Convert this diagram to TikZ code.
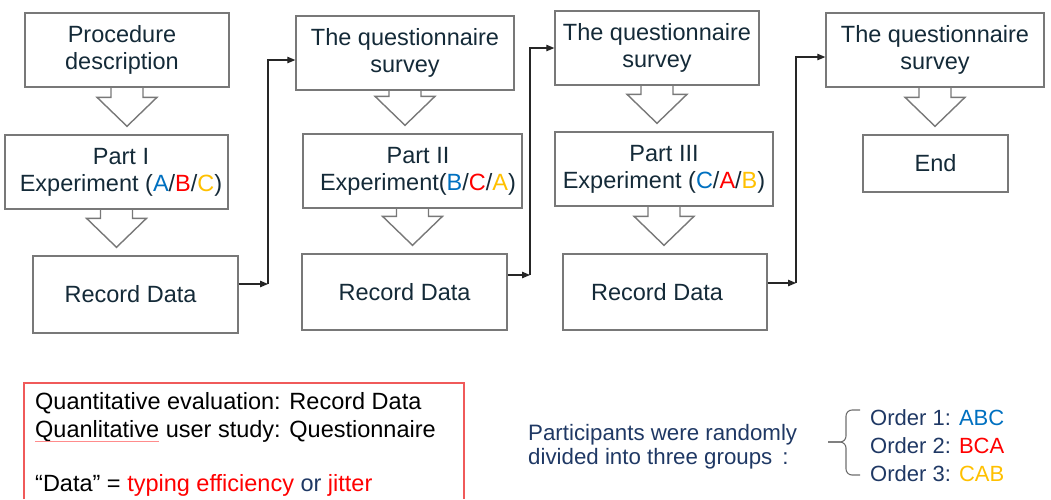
\documentclass[tikz,border=0pt]{standalone}
\usepackage{fontspec}
\setmainfont{Liberation Sans}
\usetikzlibrary{arrows.meta,calc}
\definecolor{boxtext}{RGB}{20,42,56}
\definecolor{boxline}{RGB}{120,120,120}
\definecolor{cA}{RGB}{0,112,192}
\definecolor{cR}{RGB}{255,0,0}
\definecolor{cY}{RGB}{255,192,0}
\definecolor{navy}{RGB}{31,56,100}
\definecolor{redbox}{RGB}{240,90,90}
\definecolor{bracegray}{RGB}{110,110,110}
\newcommand{\sh}[1]{\hspace*{#1}}
\newcommand{\hollowarr}[2]{%
  \draw[harrow] let \p1=(#1.south), \p2=(#2.north) in
  (\x1-16pt,\y1) -- (\x1-16pt,\y2+37pt) -- (\x1-30pt,\y2+37pt) -- (\x1,\y2+8pt)
  -- (\x1+30pt,\y2+37pt) -- (\x1+16pt,\y2+37pt) -- (\x1+16pt,\y1);}
\begin{document}
\begin{tikzpicture}[x=1pt,y=-1pt,
  every node/.style={font=\fontsize{23.5}{27}\selectfont, text=boxtext},
  box/.style={draw=boxline, line width=1.4pt, inner sep=0pt, align=center},
  harrow/.style={draw=boxline, line width=1.4pt, line join=miter},
  conn/.style={draw=black!85, line width=1.1pt, -{Triangle[length=8pt,width=6.5pt]}},
  plain/.style={anchor=base west, inner sep=0pt},
  ]
\useasboundingbox (0,0) rectangle (1051,499);

% column 1
\node[box, minimum width=204pt, minimum height=74pt] (P1) at (127,50) {Procedure\sh{10pt}\\description\sh{10pt}};
\node[box, minimum width=223pt, minimum height=74pt] (E1) at (116.5,172) {\sh{9pt}Part I\\\sh{9pt}Experiment (\textcolor{cA}{A}/\textcolor{cR}{B}/\textcolor{cY}{C})};
\node[box, minimum width=205pt, minimum height=77pt] (R1) at (135.5,294.5) {Record Data\sh{10pt}};

% column 2
\node[box, minimum width=218pt, minimum height=74pt] (Q2) at (405,53) {The questionnaire\\survey};
\node[box, minimum width=219pt, minimum height=74pt] (E2) at (412.5,171) {\sh{11pt}Part II\\\sh{11pt}Experiment(\textcolor{cA}{B}/\textcolor{cR}{C}/\textcolor{cY}{A})};
\node[box, minimum width=205pt, minimum height=76pt] (R2) at (404.5,292) {Record Data};

% column 3
\node[box, minimum width=204pt, minimum height=74pt] (Q3) at (657,48) {The questionnaire\\survey};
\node[box, minimum width=218pt, minimum height=74pt] (E3) at (664,169) {Part III\\Experiment (\textcolor{cA}{C}/\textcolor{cR}{A}/\textcolor{cY}{B})};
\node[box, minimum width=204pt, minimum height=76pt] (R3) at (665,292) {Record Data\sh{16pt}};

% column 4
\node[box, minimum width=218pt, minimum height=74pt] (Q4) at (935,50) {The questionnaire\\survey};
\node[box, minimum width=145pt, minimum height=57pt] (End) at (935.5,163.5) {End};

% hollow arrows
\hollowarr{P1}{E1}
\hollowarr{E1}{R1}
\hollowarr{Q2}{E2}
\hollowarr{E2}{R2}
\hollowarr{Q3}{E3}
\hollowarr{E3}{R3}
\hollowarr{Q4}{End}

% connectors
\coordinate (k1) at (268,284); \coordinate (k1t) at (268,60);
\coordinate (k2) at (530,275); \coordinate (k2t) at (530,48);
\coordinate (k3) at (796,283); \coordinate (k3t) at (796,57);
\draw[conn] (R1.east |- k1) -- (k1);
\draw[conn] (k1) -- (k1t) -- (Q2.west |- k1t);
\draw[conn] (R2.east |- k2) -- (k2);
\draw[conn] (k2) -- (k2t) -- (Q3.west |- k2t);
\draw[conn] (R3.east |- k3) -- (k3);
\draw[conn] (k3) -- (k3t) -- (Q4.west |- k3t);

% red note box
\draw[redbox, line width=1.3pt] (24,499) -- (24,383) -- (464,383) -- (464,499);
\node[plain, text=black] (n1) at (35,409) {Quantitative evaluation: Record Data};
\node[plain, text=black] (n2) at (35,437) {Quanlitative user study: Questionnaire};
\draw[red!45, line width=0.8pt] (35,441.5) -- (159,441.5);
\node[plain, text=black] (n3) at (35,491) {“Data” = \textcolor{cR}{typing efficiency} \textcolor{navy}{or} \textcolor{cR}{jitter}};

% participants
\node[plain, text=navy, font=\fontsize{22.3}{24}\selectfont] (p1) at (528,440) {Participants were randomly};
\node[plain, text=navy, font=\fontsize{22.3}{24}\selectfont] (p2) at (528,464) {divided into three groups\hspace{10pt}:};
\draw[bracegray, line width=1.1pt, rounded corners=6pt] (860,410) -- (846,410) -- (846,442) -- (828,442);
\draw[bracegray, line width=1.1pt, rounded corners=6pt] (828,442) -- (846,442) -- (846,475) -- (860,475);
\node[plain, text=navy, font=\fontsize{22}{24}\selectfont] (o1) at (870,425) {Order 1: \textcolor{cA}{ABC}};
\node[plain, text=navy, font=\fontsize{22}{24}\selectfont] (o2) at (870,453) {Order 2: \textcolor{cR}{BCA}};
\node[plain, text=navy, font=\fontsize{22}{24}\selectfont] (o3) at (870,481) {Order 3: \textcolor{cY}{CAB}};
\end{tikzpicture}
\end{document}
